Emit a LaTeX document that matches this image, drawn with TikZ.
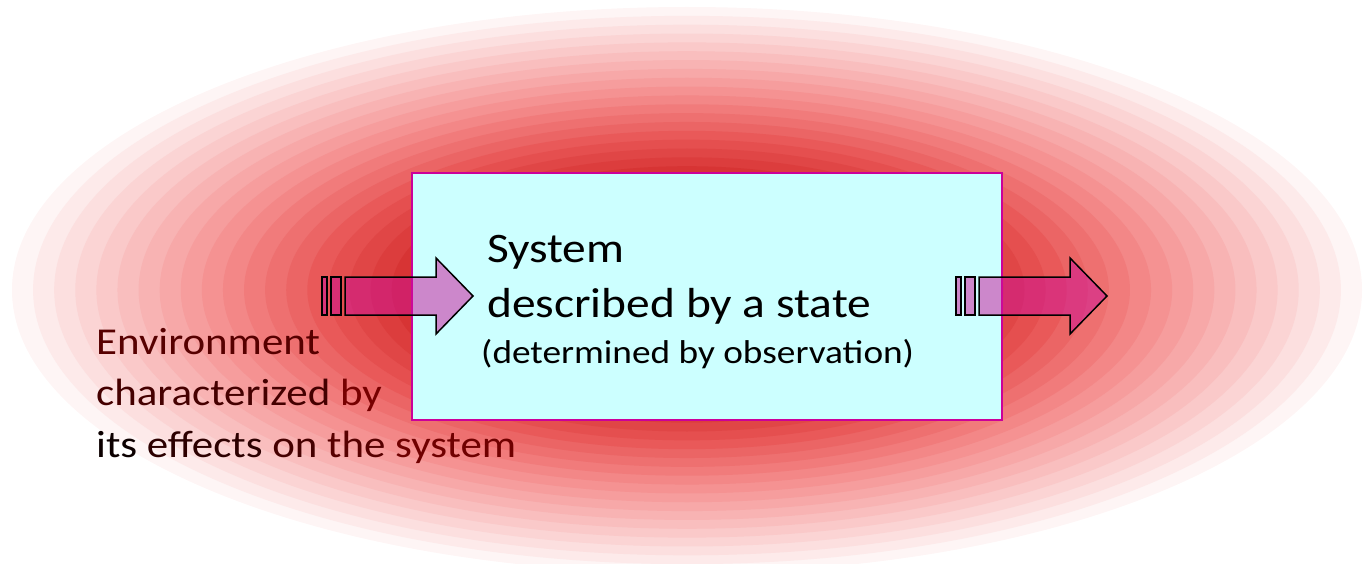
\documentclass[tikz,border=0pt]{standalone}
\usepackage{fontspec}
\setmainfont{Carlito}[FakeStretch=1.13]

\definecolor{boxfill}{RGB}{204,255,255}
\definecolor{boxline}{RGB}{204,0,153}
\definecolor{arrowfill}{RGB}{204,17,153}
\definecolor{envred}{RGB}{125,0,0}

\tikzset{
  sysbox/.style={draw=boxline, line width=2pt, fill=boxfill, minimum width=590pt, minimum height=247pt, inner sep=0pt},
  systext/.style={anchor=base west, inner sep=0pt, font=\fontsize{42}{50}\selectfont},
  obstext/.style={anchor=base west, inner sep=0pt, font=\fontsize{33}{40}\selectfont},
  envtext/.style={anchor=base west, inner sep=0pt, font=\fontsize{38}{46}\selectfont},
  blockarrow/.style={draw=black, line width=1.5pt, fill=arrowfill, fill opacity=0.5, line join=miter},
}
\newcommand{\ew}[2]{\textcolor{envred!#1!black}{#2}}

\begin{document}
\begin{tikzpicture}[x=1pt,y=-1pt]
    \useasboundingbox (0,0) rectangle (1368,564);
    \clip (0,0) rectangle (1368,564);

    % environment: stepped red ellipse
    \foreach \i in {32,31,...,1} {
        \pgfmathsetmacro{\r}{\i/32}
        \pgfmathtruncatemacro{\R}{\r>=0.7 ? 245+(\r-0.7)/0.3*9 : (\r>=0.55 ? 232+(\r-0.55)/0.15*13 : (\r>=0.42 ? 213+(\r-0.42)/0.13*19 : 205+\r/0.42*8))}
        \pgfmathtruncatemacro{\G}{\r>=0.7 ? 140+(\r-0.7)/0.3*105 : (\r>=0.55 ? 85+(\r-0.55)/0.15*55 : (\r>=0.42 ? 48+(\r-0.42)/0.13*37 : 30+\r/0.42*18))}
        \definecolor{bandc}{RGB}{\R,\G,\G}
        \fill[bandc] (687,290) ellipse [x radius=675*\r, y radius=283*\r];
    }

    % the system
    \node[sysbox] (sys) at (707,296.5) {};
    \node[systext] (systitle) at (487,262) {System};
    \node[systext] (sysdesc) at (487,317) {described by a state};
    \node[obstext] (sysobs) at (481,363) {(determined by observation)};

    % input and output arrows
    \foreach \x in {322,956} {
        \draw[blockarrow] (\x,277) rectangle (\x+5,315);
        \draw[blockarrow] (\x+9,277) rectangle (\x+19,315);
        \draw[blockarrow] (\x+23,277) -- (\x+114,277) -- (\x+114,258) -- (\x+151,296)
            -- (\x+114,334) -- (\x+114,315) -- (\x+23,315) -- cycle;
    }

    \node[envtext] (env1) at (96,354) {\ew{70}{Environment}};
    \node[envtext] (env2) at (96,405) {\ew{55}{characterized} \ew{95}{by}};
    \node[envtext] (env3) at (96,457) {\ew{10}{its} \ew{35}{effects} \ew{55}{on} \ew{70}{the} \ew{90}{system}};
\end{tikzpicture}
\end{document}
